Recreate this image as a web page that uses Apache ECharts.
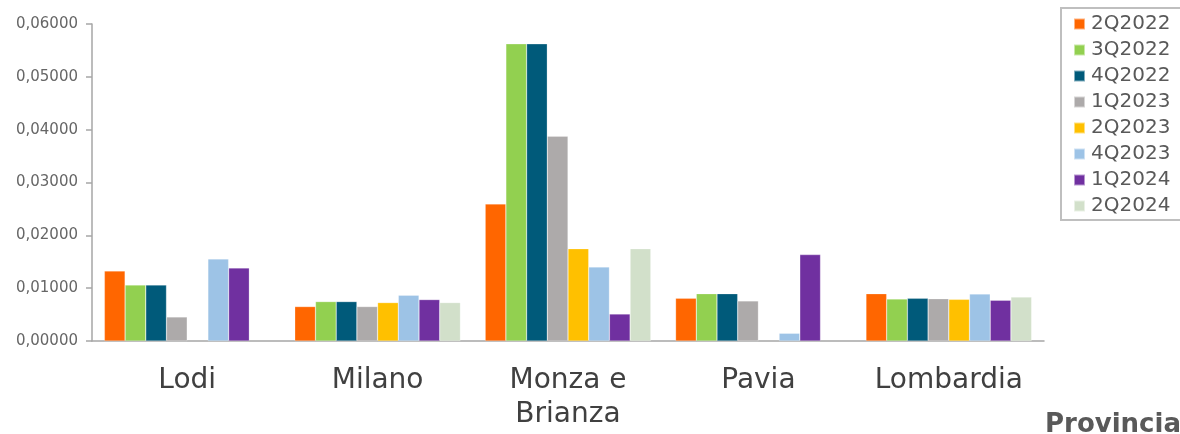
<!DOCTYPE html>
<html>
<head>
<meta charset="utf-8">
<script src="https://cdn.jsdelivr.net/npm/echarts@6/dist/echarts.min.js"></script>
<style>
html,body{margin:0;padding:0;background:#fff;}
#main{width:1180px;height:434px;}
</style>
</head>
<body>
<div id="main"></div>
<script>
// dati
var categorie = ['Lodi', 'Milano', 'Monza e\nBrianza', 'Pavia', 'Lombardia'];
var q2_2022 = [0.01326, 0.00652, 0.02594, 0.00808, 0.00896];
var q3_2022 = [0.01060, 0.00746, 0.05625, 0.00896, 0.00795];
var q4_2022 = [0.01060, 0.00746, 0.05625, 0.00896, 0.00808];
var q1_2023 = [0.00455, 0.00652, 0.03877, 0.00758, 0.00801];
var q2_2023 = [null, 0.00727, 0.01748, null, 0.00789];
var q4_2023 = [0.01553, 0.00866, 0.01402, 0.00146, 0.00890];
var q1_2024 = [0.01383, 0.00784, 0.00511, 0.01635, 0.00771];
var q2_2024 = [null, 0.00727, 0.01748, null, 0.00833];

var nomi = ['2Q2022', '3Q2022', '4Q2022', '1Q2023', '2Q2023', '4Q2023', '1Q2024', '2Q2024'];
var valori = [q2_2022, q3_2022, q4_2022, q1_2023, q2_2023, q4_2023, q1_2024, q2_2024];
var colori = ['#FF6600', '#92D050', '#005A7A', '#ADAAAA', '#FFC000', '#9DC3E6', '#7030A0', '#D2E0CA'];

var font = 'DejaVu Sans';
var myChart = echarts.init(document.getElementById('main'));

var serie = [];
for (var i = 0; i < nomi.length; i++) {
    serie.push({
        name: nomi[i],
        type: 'bar',
        data: valori[i],
        barGap: 0,
        barCategoryGap: '13%',
        itemStyle: {color: colori[i], borderColor: 'rgba(255,255,255,0.5)', borderWidth: 0.5}
    });
}

var option = {
    animation: false,
    color: colori,
    title: {
        text: 'Provincia',
        left: 1040,
        top: 407,
        textStyle: {fontFamily: font, fontSize: 26, fontWeight: 'bold', color: '#595959'}
    },
    legend: {
        orient: 'vertical',
        left: 1061,
        top: 8,
        data: nomi,
        icon: 'rect',
        itemWidth: 11,
        itemHeight: 11,
        itemGap: 6,
        padding: [6, 40, 4, 12],
        borderColor: '#BFBFBF',
        borderWidth: 2,
        textStyle: {fontFamily: font, fontSize: 20, color: '#595959', padding: [0, 0, 0, 1]}
    },
    grid: {
        left: 92,
        right: 136,
        top: 24,
        bottom: 93
    },
    xAxis: {
        type: 'category',
        data: categorie,
        axisLine: {lineStyle: {color: '#A6A6A6', width: 1.5}},
        axisTick: {length: 9, lineStyle: {color: '#A6A6A6', width: 1.5}},
        axisLabel: {interval: 0, fontFamily: font, fontSize: 28, color: '#404040', margin: 23, lineHeight: 34}
    },
    yAxis: {
        type: 'value',
        min: 0,
        max: 0.06,
        interval: 0.01,
        splitLine: {show: false},
        axisLine: {show: true, lineStyle: {color: '#A6A6A6', width: 1.5}},
        axisTick: {show: true, length: 6, lineStyle: {color: '#A6A6A6', width: 1.5}},
        axisLabel: {
            fontFamily: font, fontSize: 15, color: '#666666', margin: 14,
            formatter: function (v) { return v.toFixed(5).replace('.', ','); }
        }
    },
    series: serie
};

myChart.setOption(option);
</script>
</body>
</html>
